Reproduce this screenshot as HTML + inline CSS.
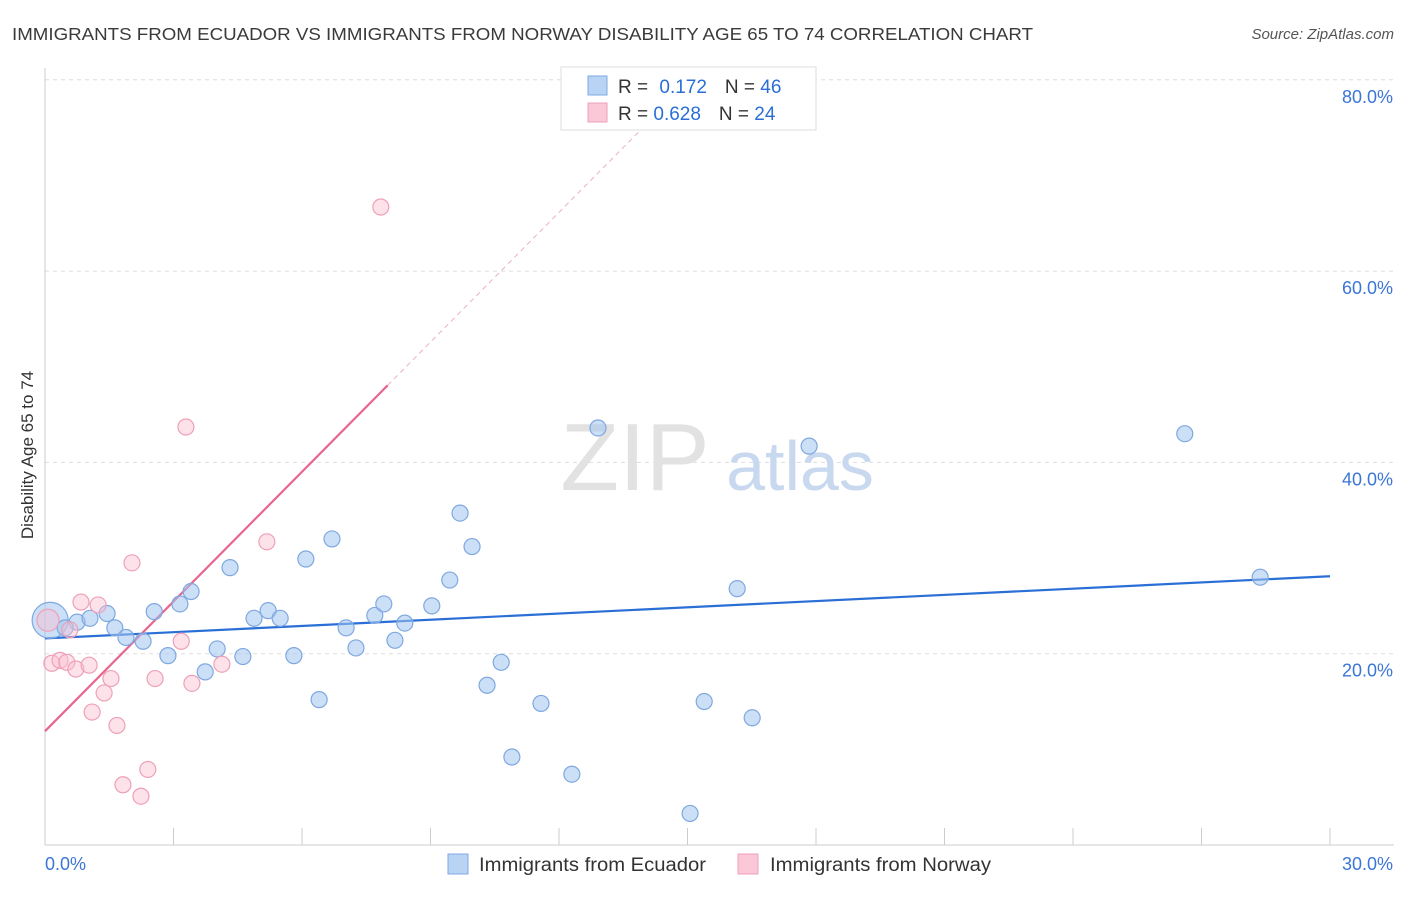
<!DOCTYPE html>
<html><head><meta charset="utf-8"><style>
body{margin:0;background:#fff;font-family:"Liberation Sans",sans-serif;}
svg text{font-family:"Liberation Sans",sans-serif;}
</style></head><body>
<svg width="1406" height="892" viewBox="0 0 1406 892" xmlns="http://www.w3.org/2000/svg">
<text x="12" y="40" font-size="17.5" fill="#3a3a3a" textLength="1021" lengthAdjust="spacingAndGlyphs">IMMIGRANTS FROM ECUADOR VS IMMIGRANTS FROM NORWAY DISABILITY AGE 65 TO 74 CORRELATION CHART</text>
<text x="1394" y="39" font-size="15" fill="#555" font-style="italic" text-anchor="end">Source: ZipAtlas.com</text>
<g id="grid"></g>
<g id="watermark">
<text x="635" y="490" font-size="96" fill="#e2e2e2" text-anchor="middle" font-family="Liberation Serif,serif">ZIP</text>
<text x="800" y="490" font-size="70" fill="#c8d8ef" text-anchor="middle">atlas</text>
</g>
<g id="axes"></g>
<g id="lines"></g>
<g id="pts"></g>
<text transform="translate(33,455) rotate(-90)" font-size="17" fill="#333" text-anchor="middle">Disability Age 65 to 74</text>
<g>
<rect x="561" y="67" width="255" height="63" fill="#fff" stroke="#ddd"/>
<rect x="588" y="76" width="19" height="19" fill="#b9d3f5" stroke="#7fa8e0"/>
<text x="618" y="93" font-size="19" fill="#333">R = <tspan fill="#2b6fd6" dx="6">0.172</tspan><tspan dx="18" fill="#333">N = </tspan><tspan fill="#2b6fd6">46</tspan></text>
<rect x="588" y="103" width="19" height="19" fill="#fac8d6" stroke="#eea0b8"/>
<text x="618" y="120" font-size="19" fill="#333">R = <tspan fill="#2b6fd6">0.628</tspan><tspan dx="18" fill="#333">N = </tspan><tspan fill="#2b6fd6">24</tspan></text>
</g>
<g>
<rect x="448" y="854" width="20" height="20" fill="#b9d3f5" stroke="#7fa8e0"/>
<text x="479" y="871" font-size="19" fill="#333" textLength="227" lengthAdjust="spacingAndGlyphs">Immigrants from Ecuador</text>
<rect x="738" y="854" width="20" height="20" fill="#fac8d6" stroke="#eea0b8"/>
<text x="770" y="871" font-size="19" fill="#333" textLength="221" lengthAdjust="spacingAndGlyphs">Immigrants from Norway</text>
</g>
</svg>
<script>
const ecuadorX=[0.12,0.75,1.05,1.45,1.63,1.89,2.29,2.55,2.87,3.15,3.41,3.74,4.02,4.32,4.62,4.88,5.21,5.49,5.81,6.09,6.40,6.70,7.03,7.26,7.70,7.91,8.17,8.40,9.03,9.45,9.69,9.97,10.32,10.65,10.90,11.58,12.30,12.91,15.06,15.39,16.16,16.51,17.84,26.61,28.37,0.47];
const ecuadorY=[23.5,23.3,23.7,24.2,22.7,21.7,21.3,24.4,19.8,25.2,26.5,18.1,20.5,29.0,19.7,23.7,24.5,23.7,19.8,29.9,15.2,32.0,22.7,20.6,24.0,25.2,21.4,23.2,25.0,27.7,34.7,31.2,16.7,19.1,9.2,14.8,7.4,43.6,3.3,15.0,26.8,13.3,41.7,43.0,28.0,22.7];
const norwayX=[0.07,0.16,0.35,0.51,0.58,0.72,0.84,1.03,1.10,1.24,1.38,1.54,1.68,1.82,2.03,2.24,2.40,2.57,3.18,3.29,3.43,4.13,5.18,7.84];
const norwayY=[23.5,19.0,19.3,19.1,22.5,18.4,25.4,18.8,13.9,25.1,15.9,17.4,12.5,6.3,29.5,5.1,7.9,17.4,21.3,43.7,16.9,18.9,31.7,66.7];
const yTicks=[20,40,60,80];
const yTickLabels=["20.0%","40.0%","60.0%","80.0%"];
const xTicks=[0,3,6,9,12,15,18,21,24,27,30];
const ecuadorTrend=[21.6,28.1];
const norwayTrend=[11.9,4.52];
const NS="http://www.w3.org/2000/svg";
const X=v=>45+v/30*1285, Y=v=>845-v/20*191.3;
function mk(t,a,p){const e=document.createElementNS(NS,t);for(const k in a)e.setAttribute(k,a[k]);p.appendChild(e);return e;}
const grid=document.getElementById('grid'),axes=document.getElementById('axes');
yTicks.forEach((v,i)=>{
 const l=mk('line',{x1:45,x2:1394,y1:Y(v),y2:Y(v),stroke:'#ddd','stroke-dasharray':'4,4'},grid);
 
 
 const t=mk('text',{x:1393,y:Y(v)+23,'font-size':18,fill:'#3b76d6','text-anchor':'end'},axes);
 t.textContent=yTickLabels[i];
 
 
});
const ax=mk('line',{x1:45,x2:1394,y1:845,y2:845,stroke:'#ccc'},axes);


const ay=mk('line',{x1:45,x2:45,y1:68,y2:845,stroke:'#ccc'},axes);


xTicks.forEach(v=>{const t=mk('line',{x1:X(v),x2:X(v),y1:828,y2:845,stroke:'#ccc'},axes);
 
 });
const x0=mk('text',{x:45,y:870,'font-size':18,fill:'#3b76d6'},axes);x0.textContent=xTicks[0].toFixed(1)+'%';


const x1=mk('text',{x:1393,y:870,'font-size':18,fill:'#3b76d6','text-anchor':'end'},axes);x1.textContent=xTicks[xTicks.length-1].toFixed(1)+'%';


const pts=document.getElementById('pts');
ecuadorX.forEach((x,i)=>{const r=i===0?18:8;
 const c=mk('circle',{cx:X(x),cy:Y(ecuadorY[i]),r:r,fill:'rgba(160,196,240,0.55)',stroke:'#7fa8e0','stroke-width':1.2},pts);
 
 });
norwayX.forEach((x,i)=>{const r=i===0?11:8;
 const c=mk('circle',{cx:X(x),cy:Y(norwayY[i]),r:r,fill:'rgba(250,190,208,0.45)',stroke:'#eea0b8','stroke-width':1.2},pts);
 
 });
const lines=document.getElementById('lines');
const bl=mk('line',{x1:X(0),y1:Y(ecuadorTrend[0]),x2:X(30),y2:Y(ecuadorTrend[1]),stroke:'#2a6fd6','stroke-width':2.2},lines);


const nEnd=8.0,nTop=(80-norwayTrend[0])/norwayTrend[1];
const pl=mk('line',{x1:X(0),y1:Y(norwayTrend[0]),x2:X(nEnd),y2:Y(norwayTrend[0]+norwayTrend[1]*nEnd),stroke:'#e8668e','stroke-width':2.2},lines);


const pd=mk('line',{x1:X(nEnd),y1:Y(norwayTrend[0]+norwayTrend[1]*nEnd),x2:X(nTop),y2:Y(80),stroke:'#eab0c2','stroke-width':1,'stroke-dasharray':'5,4'},lines);


</script>
</body></html>
